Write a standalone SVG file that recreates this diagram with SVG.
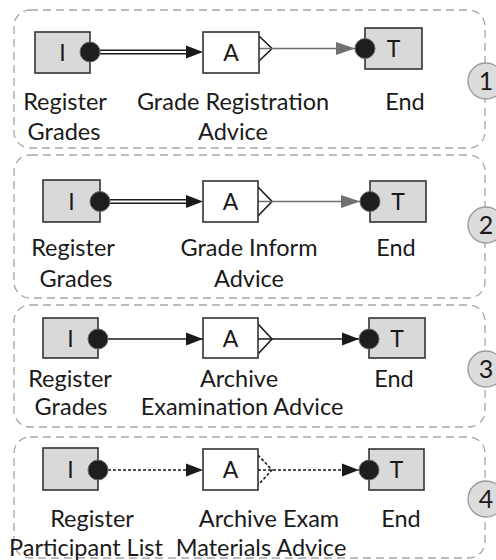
<svg xmlns="http://www.w3.org/2000/svg" width="496" height="560" viewBox="0 0 496 560">
  <defs>
    <style>
      .panel { fill: none; stroke: #a6a6a6; stroke-width: 1.3; stroke-dasharray: 8 5; }
      .term { fill: #d9d9d9; stroke: #333; stroke-width: 1.6; }
      .act { fill: #fff; stroke: #333; stroke-width: 1.6; }
      .dot { fill: #1e1e1e; stroke: #666; stroke-width: 1; }
      .badge { fill: #dcdcdc; stroke: #9a9a9a; stroke-width: 1.3; }
      .box-label { font-family: Lato, "Liberation Sans", sans-serif; font-size: 23px; fill: #1a1a1a; text-anchor: middle; }
      .label { font-family: Lato, "Liberation Sans", sans-serif; font-size: 23.5px; fill: #1a1a1a; text-anchor: middle; }
      .num { font-family: Lato, "Liberation Sans", sans-serif; font-size: 25px; fill: #1a1a1a; text-anchor: middle; }
      .dbl-outer { stroke: #1a1a1a; stroke-width: 5; fill: none; }
      .dbl-inner { stroke: #fff; stroke-width: 1.8; fill: none; }
      .solid { stroke: #1a1a1a; stroke-width: 1.6; fill: none; }
      .grey { stroke: #707070; stroke-width: 1.6; fill: none; }
      .dotted { stroke: #1a1a1a; stroke-width: 1.6; fill: none; stroke-dasharray: 3 2; }
      .foot { stroke: #1a1a1a; stroke-width: 1.6; fill: none; }
      .foot-dotted { stroke: #1a1a1a; stroke-width: 1.6; fill: none; stroke-dasharray: 3 2; }
    </style>
    <marker id="arrowBlack" markerUnits="userSpaceOnUse" markerWidth="18" markerHeight="14" refX="17" refY="7" orient="auto">
      <path d="M0,0.5 L17,7 L0,13.5 Z" fill="#1a1a1a"/>
    </marker>
    <marker id="arrowGrey" markerUnits="userSpaceOnUse" markerWidth="20" markerHeight="14" refX="19" refY="7" orient="auto">
      <path d="M0,0.5 L19,7 L0,13.5 Z" fill="#707070"/>
    </marker>
  </defs>

  <!-- scenario frames -->
  <g id="frames">
    <rect class="panel" x="14" y="10" width="471" height="138" rx="16"/>
    <rect class="panel" x="14" y="155" width="471" height="143" rx="16"/>
    <rect class="panel" x="14" y="305" width="471" height="122" rx="16"/>
    <rect class="panel" x="14" y="437" width="471" height="121" rx="16"/>
  </g>

  <!-- connectors -->
  <g id="connectors">
    <!-- scenario 1 -->
    <line class="dbl-outer" x1="100" y1="52" x2="188" y2="52"/>
    <line class="dbl-inner" x1="99" y1="52" x2="189" y2="52"/>
    <line x1="188" y1="52" x2="203" y2="52" stroke="none" marker-end="url(#arrowBlack)"/>
    <polyline class="foot" points="259,36 272,48.5 259,61"/>
    <line class="grey" x1="259" y1="48.5" x2="355" y2="48.5" marker-end="url(#arrowGrey)"/>

    <!-- scenario 2 -->
    <line class="dbl-outer" x1="110" y1="201.5" x2="188" y2="201.5"/>
    <line class="dbl-inner" x1="109" y1="201.5" x2="189" y2="201.5"/>
    <line x1="188" y1="201.5" x2="203" y2="201.5" stroke="none" marker-end="url(#arrowBlack)"/>
    <polyline class="foot" points="258,187 272,201.5 258,216"/>
    <line class="grey" x1="258" y1="201.5" x2="360" y2="201.5" marker-end="url(#arrowGrey)"/>

    <!-- scenario 3 -->
    <line class="solid" x1="108" y1="339" x2="203" y2="339" marker-end="url(#arrowBlack)"/>
    <polyline class="foot" points="258,324 272,339 258,354"/>
    <line class="solid" x1="258" y1="339" x2="359" y2="339" marker-end="url(#arrowBlack)"/>

    <!-- scenario 4 -->
    <line class="dotted" x1="108" y1="470" x2="203" y2="470" marker-end="url(#arrowBlack)"/>
    <polyline class="foot-dotted" points="258,455 272,470 258,485"/>
    <line class="dotted" x1="258" y1="470" x2="359" y2="470" marker-end="url(#arrowBlack)"/>
  </g>

  <!-- scenario 1 nodes -->
  <g id="s1-start">
    <rect class="term" x="35" y="32" width="55" height="41"/>
    <text class="box-label" x="62.5" y="61">I</text>
    <circle class="dot" cx="90" cy="52" r="10"/>
    <text class="label" x="65" y="110">Register</text>
    <text class="label" x="64" y="140">Grades</text>
  </g>
  <g id="s1-advice">
    <rect class="act" x="203" y="32" width="56" height="41"/>
    <text class="box-label" x="231" y="61">A</text>
    <text class="label" x="233" y="110">Grade Registration</text>
    <text class="label" x="233" y="140">Advice</text>
  </g>
  <g id="s1-end">
    <rect class="term" x="365" y="28" width="57" height="41"/>
    <text class="box-label" x="393.5" y="57">T</text>
    <circle class="dot" cx="365" cy="48.5" r="10"/>
    <text class="label" x="405" y="110">End</text>
  </g>
  <g id="s1-badge">
    <circle class="badge" cx="486" cy="81" r="18"/>
    <text class="num" x="486" y="90">1</text>
  </g>

  <!-- scenario 2 nodes -->
  <g id="s2-start">
    <rect class="term" x="43" y="180" width="57" height="42"/>
    <text class="box-label" x="71.5" y="210">I</text>
    <circle class="dot" cx="100" cy="201.5" r="10"/>
    <text class="label" x="73" y="256">Register</text>
    <text class="label" x="76" y="287">Grades</text>
  </g>
  <g id="s2-advice">
    <rect class="act" x="203" y="181" width="55" height="41"/>
    <text class="box-label" x="230.5" y="210">A</text>
    <text class="label" x="249" y="256">Grade Inform</text>
    <text class="label" x="249" y="287">Advice</text>
  </g>
  <g id="s2-end">
    <rect class="term" x="370" y="181" width="56" height="41"/>
    <text class="box-label" x="398" y="210">T</text>
    <circle class="dot" cx="370" cy="201.5" r="10"/>
    <text class="label" x="396" y="256">End</text>
  </g>
  <g id="s2-badge">
    <circle class="badge" cx="486" cy="225" r="18"/>
    <text class="num" x="486" y="234">2</text>
  </g>

  <!-- scenario 3 nodes -->
  <g id="s3-start">
    <rect class="term" x="43" y="318" width="55" height="40"/>
    <text class="box-label" x="70.5" y="347">I</text>
    <circle class="dot" cx="98" cy="339" r="10"/>
    <text class="label" x="70" y="387">Register</text>
    <text class="label" x="71" y="415">Grades</text>
  </g>
  <g id="s3-advice">
    <rect class="act" x="203" y="318" width="55" height="40"/>
    <text class="box-label" x="230.5" y="347">A</text>
    <text class="label" x="239" y="387">Archive</text>
    <text class="label" x="242" y="415">Examination Advice</text>
  </g>
  <g id="s3-end">
    <rect class="term" x="369" y="318" width="56" height="40"/>
    <text class="box-label" x="397" y="347">T</text>
    <circle class="dot" cx="369" cy="339" r="10"/>
    <text class="label" x="394" y="387">End</text>
  </g>
  <g id="s3-badge">
    <circle class="badge" cx="486" cy="369" r="18"/>
    <text class="num" x="486" y="378">3</text>
  </g>

  <!-- scenario 4 nodes -->
  <g id="s4-start">
    <rect class="term" x="43" y="448" width="55" height="42"/>
    <text class="box-label" x="70.5" y="478">I</text>
    <circle class="dot" cx="98" cy="470" r="10"/>
    <text class="label" x="92" y="527">Register</text>
    <text class="label" x="86" y="556">Participant List</text>
  </g>
  <g id="s4-advice">
    <rect class="act" x="203" y="449" width="55" height="41"/>
    <text class="box-label" x="230.5" y="478">A</text>
    <text class="label" x="269" y="527">Archive Exam</text>
    <text class="label" x="261" y="556">Materials Advice</text>
  </g>
  <g id="s4-end">
    <rect class="term" x="369" y="449" width="55" height="41"/>
    <text class="box-label" x="396.5" y="478">T</text>
    <circle class="dot" cx="369" cy="470" r="10"/>
    <text class="label" x="401" y="527">End</text>
  </g>
  <g id="s4-badge">
    <circle class="badge" cx="486" cy="499" r="18"/>
    <text class="num" x="486" y="508">4</text>
  </g>
</svg>
